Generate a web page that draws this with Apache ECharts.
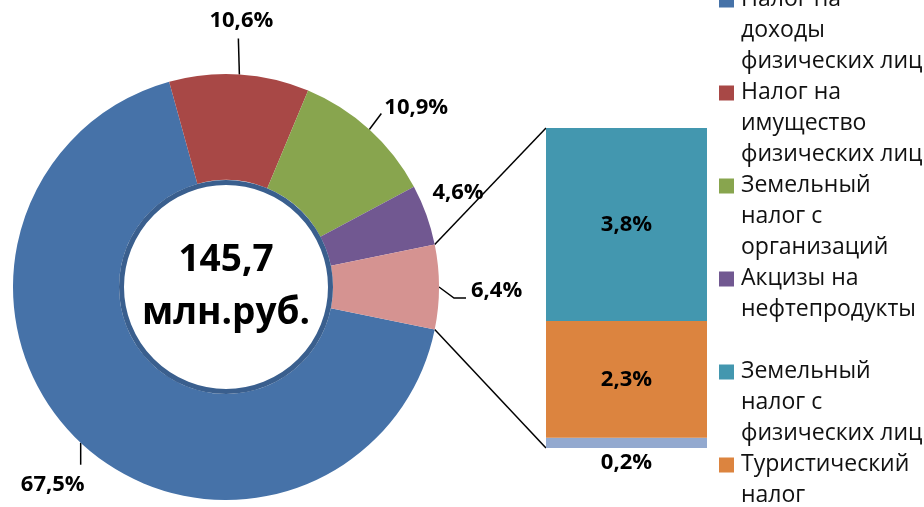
<!DOCTYPE html>
<html>
<head>
<meta charset="utf-8">
<script src="https://cdn.jsdelivr.net/npm/echarts@6.0.0/dist/echarts.min.js"></script>
<style>
  html, body { margin: 0; padding: 0; background: #fff; }
  #chart { width: 924px; height: 507px; }
</style>
</head>
<body>
<div id="chart"></div>
<script>
  // доли в общем объёме, %
  var pieNames = ['Налог на доходы физических лиц', 'Налог на имущество физических лиц', 'Земельный налог с организаций', 'Акцизы на нефтепродукты', 'Прочие']
  var pieValues = [67.5, 10.6, 10.9, 4.6, 6.4]
  var pieColors = ['#4672A8', '#A84846', '#88A54E', '#715891', '#D59391']

  // расшифровка "прочих" (снизу вверх)
  var barNames = ['Прочие доходы', 'Туристический налог', 'Земельный налог с физических лиц']
  var barValues = [0.2, 2.3, 3.8]
  var barColors = ['#93A9CF', '#DC843F', '#4397AF']

  var totalValue = '145,7'
  var totalUnit = 'млн.руб.'

  var legendNames = [pieNames[0], pieNames[1], pieNames[2], pieNames[3], barNames[2], barNames[1], barNames[0]]
  var legendText = {
    'Налог на доходы физических лиц': 'Налог на\nдоходы\nфизических лиц',
    'Налог на имущество физических лиц': 'Налог на\nимущество\nфизических лиц',
    'Земельный налог с организаций': 'Земельный\nналог с\nорганизаций',
    'Акцизы на нефтепродукты': 'Акцизы на\nнефтепродукты\n ',
    'Земельный налог с физических лиц': 'Земельный\nналог с\nфизических лиц',
    'Туристический налог': 'Туристический\nналог\n ',
    'Прочие доходы': 'Прочие\n\n '
  }

  var font = '"Open Sans", "Noto Sans", sans-serif'
  var pct = function (v) { return v.toFixed(1).replace('.', ',') + '%' }

  var pieCenter = [226, 287]
  var pieRadius = [107, 213]
  var pieSum = pieValues.reduce(function (a, b) { return a + b }, 0)
  // "прочие" центрированы на горизонтали справа
  var startAngle = -pieValues[4] / pieSum * 360 / 2

  // подписи секторов как в исходнике (от точки на краю сектора)
  function placePieLabel (p) {
    if (p.seriesIndex !== 0) return
    var e = p.labelLinePoints ? p.labelLinePoints[0] : [p.labelRect.x, p.labelRect.y]
    var a, b
    switch (p.dataIndex) {
      case 0:
        a = [e[0], e[1] + 22]
        return { x: e[0] + 4, y: e[1] + 42, align: 'right', verticalAlign: 'middle', labelLinePoints: [e, a, a] }
      case 1:
        a = [e[0] - 1, e[1] - 36]
        return { x: e[0] + 2, y: e[1] - 54, align: 'center', verticalAlign: 'middle', labelLinePoints: [e, a, a] }
      case 2:
        a = [e[0] + 12, e[1] - 16]
        return { x: e[0] + 15, y: e[1] - 22, align: 'left', verticalAlign: 'middle', labelLinePoints: [e, a, a] }
      case 3:
        return { x: e[0] + 6, y: e[1] - 22, align: 'left', verticalAlign: 'middle', labelLinePoints: [e, e, e] }
      case 4:
        a = [e[0] + 15, e[1] + 11]
        b = [e[0] + 27, e[1] + 11]
        return { x: e[0] + 32, y: e[1] + 4, align: 'left', verticalAlign: 'middle', labelLinePoints: [e, a, b] }
    }
  }

  var myChart = echarts.init(document.getElementById('chart'))

  var barSeries = barValues.map(function (v, i) {
    return {
      name: barNames[i],
      type: 'bar',
      stack: 'other',
      xAxisIndex: 0,
      yAxisIndex: 0,
      barWidth: '100%',
      data: [v],
      itemStyle: { color: barColors[i] },
      label: {
        show: true,
        position: i === 0 ? 'bottom' : 'inside',
        distance: 4,
        formatter: function (p) { return pct(p.value) },
        color: '#000',
        fontFamily: font,
        fontWeight: 'bold',
        fontSize: 22
      }
    }
  })

  myChart.setOption({
    animation: false,
    backgroundColor: '#fff',
    textStyle: { fontFamily: font },
    legend: {
      orient: 'vertical',
      left: 719,
      top: -16,
      height: 900,
      padding: 0,
      itemGap: 0,
      itemWidth: 17,
      itemHeight: 93,
      icon: 'path://M0,0L0.01,0M0,8.5L15,8.5L15,23.5L0,23.5ZM17,93L16.99,93',
      itemStyle: { borderWidth: 0 },
      selectedMode: false,
      data: legendNames,
      formatter: function (name) { return legendText[name] || name },
      textStyle: {
        color: '#111',
        fontFamily: font,
        fontSize: 23,
        lineHeight: 31
      }
    },
    grid: {
      left: 546,
      top: 128,
      width: 161,
      height: 320
    },
    xAxis: {
      type: 'category',
      data: ['Прочие'],
      show: false
    },
    yAxis: {
      type: 'value',
      min: 0,
      max: barValues.reduce(function (a, b) { return a + b }, 0),
      show: false
    },
    series: [
      {
        name: 'Структура',
        type: 'pie',
        center: pieCenter,
        radius: pieRadius,
        startAngle: startAngle,
        clockwise: true,
        avoidLabelOverlap: false,
        itemStyle: { borderWidth: 0 },
        data: pieValues.map(function (v, i) {
          return { name: pieNames[i], value: v, itemStyle: { color: pieColors[i] } }
        }),
        label: {
          show: true,
          position: 'outside',
          formatter: function (p) { return pct(p.value) },
          color: '#000',
          fontFamily: font,
          fontWeight: 'bold',
          fontSize: 22
        },
        labelLine: {
          show: true,
          length: 18,
          length2: 8,
          lineStyle: { color: '#000', width: 1.5 }
        },
        labelLayout: placePieLabel,
        emphasis: { disabled: true }
      },
      {
        name: 'Итого',
        type: 'pie',
        center: pieCenter,
        radius: [0, 104.5],
        silent: true,
        data: [{ name: 'Итого', value: 1 }],
        itemStyle: { color: '#fff', borderColor: '#3A5F8E', borderWidth: 5 },
        label: {
          show: true,
          position: 'center',
          formatter: totalValue + '\n' + totalUnit,
          color: '#000',
          fontFamily: font,
          fontWeight: 'bold',
          fontSize: 37,
          lineHeight: 53
        },
        labelLine: { show: false }
      }
    ].concat(barSeries)
  })

  // соединительные линии от сектора "прочие" к столбцу
  var rect = myChart.getModel().getComponent('grid', 0).coordinateSystem.getRect()
  var half = pieValues[4] / pieSum * Math.PI
  var r = pieRadius[1]
  var topPt = [pieCenter[0] + r * Math.cos(half), pieCenter[1] - r * Math.sin(half)]
  var botPt = [pieCenter[0] + r * Math.cos(half), pieCenter[1] + r * Math.sin(half)]
  myChart.setOption({
    graphic: [
      {
        type: 'line',
        shape: { x1: topPt[0], y1: topPt[1], x2: rect.x, y2: rect.y },
        style: { stroke: '#000', lineWidth: 1.5 }
      },
      {
        type: 'line',
        shape: { x1: botPt[0], y1: botPt[1], x2: rect.x, y2: rect.y + rect.height },
        style: { stroke: '#000', lineWidth: 1.5 }
      }
    ]
  })
</script>
</body>
</html>
